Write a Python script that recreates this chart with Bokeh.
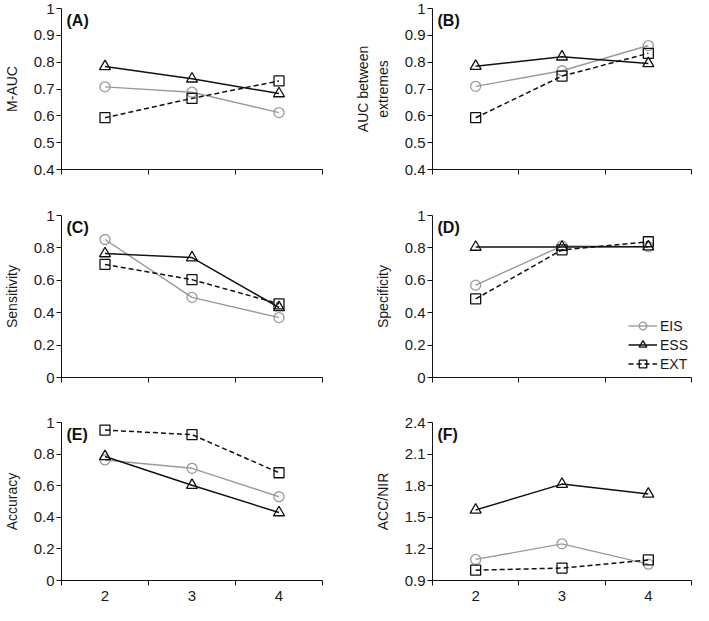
from bokeh.plotting import figure
from bokeh.models import Range1d, FixedTicker, CustomJSTickFormatter, Label, Legend, LegendItem
from bokeh.layouts import column, row
from bokeh.embed import file_html
from bokeh.resources import INLINE

FONT = "Liberation Sans"

# ---------------- data ----------------
x_vals = [2, 3, 4]
x_bounds = [1.5, 2.5, 3.5, 4.5]
series_names = ["EIS", "ESS", "EXT"]

panel_ids = ["(A)", "(B)", "(C)", "(D)", "(E)", "(F)"]
y_titles = ["M-AUC", "AUC between\nextremes", "Sensitivity", "Specificity", "Accuracy", "ACC/NIR"]

eis_A = [0.708, 0.688, 0.612]
ess_A = [0.784, 0.738, 0.683]
ext_A = [0.593, 0.665, 0.730]

eis_B = [0.710, 0.768, 0.862]
ess_B = [0.785, 0.820, 0.795]
ext_B = [0.593, 0.748, 0.833]

eis_C = [0.852, 0.495, 0.370]
ess_C = [0.765, 0.740, 0.432]
ext_C = [0.698, 0.604, 0.455]

eis_D = [0.570, 0.812, 0.808]
ess_D = [0.805, 0.805, 0.807]
ext_D = [0.485, 0.788, 0.838]

eis_E = [0.763, 0.710, 0.530]
ess_E = [0.785, 0.603, 0.430]
ext_E = [0.952, 0.923, 0.682]

eis_F = [1.100, 1.248, 1.055]
ess_F = [1.570, 1.815, 1.722]
ext_F = [0.998, 1.018, 1.095]

ticks_AB = [0.4, 0.5, 0.6, 0.7, 0.8, 0.9, 1.0]
labels_AB = ["0.4", "0.5", "0.6", "0.7", "0.8", "0.9", "1"]
ticks_CDE = [0.0, 0.2, 0.4, 0.6, 0.8, 1.0]
labels_CDE = ["0", "0.2", "0.4", "0.6", "0.8", "1"]
ticks_F = [0.9, 1.2, 1.5, 1.8, 2.1, 2.4]
labels_F = ["0.9", "1.2", "1.5", "1.8", "2.1", "2.4"]

# ---------------- styles ----------------
GRAY = "#9a9a9a"
BLACK = "#111111"
TXT = "#1a1a1a"
styles = {
    "EIS": dict(color=GRAY, width=1.4, dash="solid", marker="circle", size=10),
    "ESS": dict(color=BLACK, width=1.5, dash="solid", marker="triangle", size=11),
    "EXT": dict(color=BLACK, width=1.5, dash="5 3", marker="square", size=10),
}

COLS = [dict(width=352, bl=58, br=30), dict(width=341, bl=80, br=2)]
ROWS = [dict(height=205, bt=8, bb=36), dict(height=208, bt=10, bb=36), dict(height=192, bt=9, bb=25)]


def make_panel(pid, ytitle, data, yticks, ylabels, col, rowi, legend=False):
    c = COLS[col]
    r = ROWS[rowi]
    frame_h = r["height"] - r["bt"] - r["bb"]

    p = figure(width=c["width"], height=r["height"],
               x_range=Range1d(x_bounds[0], x_bounds[-1]),
               y_range=Range1d(yticks[0], yticks[-1]),
               output_backend="svg", toolbar_location=None,
               min_border_left=c["bl"], min_border_right=c["br"],
               min_border_top=r["bt"], min_border_bottom=r["bb"])
    p.outline_line_color = None
    p.xgrid.visible = False
    p.ygrid.visible = False
    p.background_fill_color = "white"

    # y axis
    ya = p.yaxis[0]
    ya.ticker = FixedTicker(ticks=yticks)
    ya.formatter = CustomJSTickFormatter(args=dict(tv=yticks, tl=ylabels), code="""
        for (let i = 0; i < tv.length; i++) { if (Math.abs(tv[i] - tick) < 1e-9) return tl[i]; }
        return '';
    """)
    ya.major_tick_out = 5
    ya.major_tick_in = 0
    ya.minor_tick_line_color = None
    ya.axis_line_color = BLACK
    ya.major_tick_line_color = BLACK
    ya.major_label_text_font = FONT
    ya.major_label_text_font_size = "15px"
    ya.major_label_text_color = TXT
    ya.major_label_standoff = 2
    ya.axis_label = ytitle
    ya.axis_label_text_font = FONT
    ya.axis_label_text_font_size = "14px"
    ya.axis_label_text_font_style = "normal"
    ya.axis_label_text_color = TXT
    ya.axis_label_standoff = 11

    # x axis
    xa = p.xaxis[0]
    xa.ticker = FixedTicker(ticks=x_vals, minor_ticks=x_bounds)
    xa.major_tick_out = 0
    xa.major_tick_in = 0
    xa.minor_tick_out = 5
    xa.minor_tick_in = 0
    xa.minor_tick_line_color = BLACK
    xa.axis_line_color = BLACK
    xa.major_label_text_font = FONT
    xa.major_label_text_font_size = "15px"
    xa.major_label_text_color = TXT if rowi == 2 else None
    xa.major_label_standoff = 5

    items = []
    for name, ys in zip(series_names, data):
        st = styles[name]
        lr = p.line(x_vals, ys, line_color=st["color"], line_width=st["width"], line_dash=st["dash"])
        sr = p.scatter(x_vals, ys, marker=st["marker"], size=st["size"],
                       line_color=st["color"], fill_color=None, line_width=1.3)
        items.append(LegendItem(label=name, renderers=[lr, sr]))

    if legend:
        lg = Legend(items=items, location=(196, 4), padding=0, margin=0, spacing=0,
                    glyph_width=29, glyph_height=19, label_height=18, label_standoff=3,
                    label_text_font=FONT, label_text_font_size="14px",
                    label_text_color=TXT,
                    border_line_color=None, background_fill_alpha=0)
        p.add_layout(lg, "center")

    p.add_layout(Label(x=5, y=frame_h - 3, x_units="screen", y_units="screen",
                       text=pid, text_font=FONT, text_font_size="16px",
                       text_font_style="bold", text_baseline="top", text_color="#111111"))
    return p


pA = make_panel(panel_ids[0], y_titles[0], [eis_A, ess_A, ext_A], ticks_AB, labels_AB, 0, 0)
pB = make_panel(panel_ids[1], y_titles[1], [eis_B, ess_B, ext_B], ticks_AB, labels_AB, 1, 0)
pC = make_panel(panel_ids[2], y_titles[2], [eis_C, ess_C, ext_C], ticks_CDE, labels_CDE, 0, 1)
pD = make_panel(panel_ids[3], y_titles[3], [eis_D, ess_D, ext_D], ticks_CDE, labels_CDE, 1, 1, legend=True)
pE = make_panel(panel_ids[4], y_titles[4], [eis_E, ess_E, ext_E], ticks_CDE, labels_CDE, 0, 2)
pF = make_panel(panel_ids[5], y_titles[5], [eis_F, ess_F, ext_F], ticks_F, labels_F, 1, 2)

layout = column(row(pA, pB), row(pC, pD), row(pE, pF))

open("out.html", "w").write(file_html(layout, INLINE))
